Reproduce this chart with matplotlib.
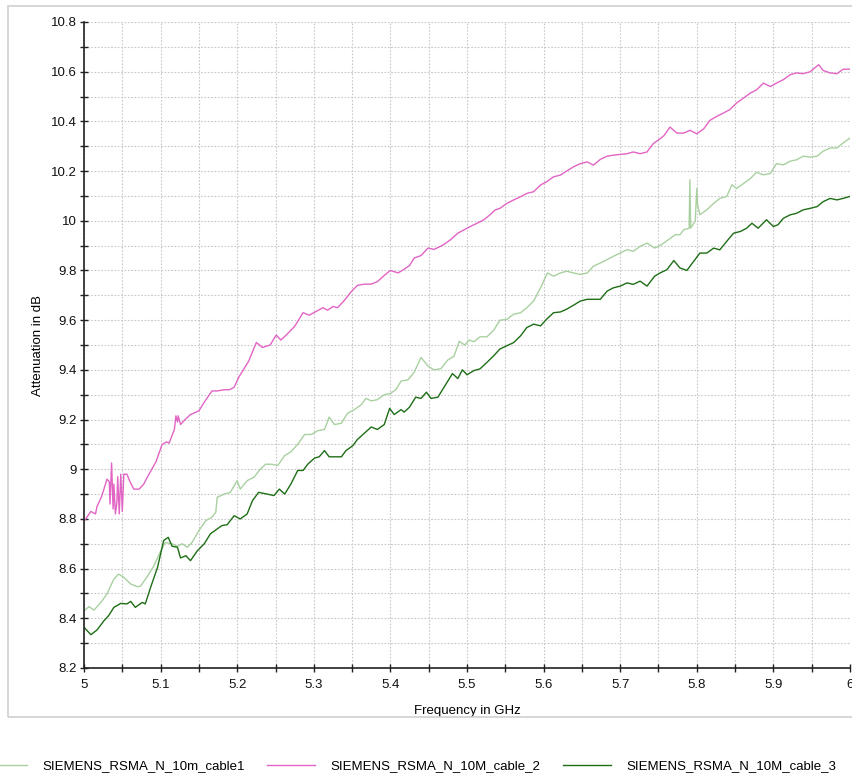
import matplotlib
matplotlib.use("Agg")
import matplotlib.pyplot as plt
from matplotlib.ticker import MultipleLocator, FuncFormatter
from matplotlib.patches import Rectangle

plt.rcParams['font.family'] = ['Liberation Sans', 'DejaVu Sans']

# ---------------- data ----------------
cable2_freq = [5.000, 5.009, 5.015, 5.017, 5.023, 5.030, 5.033, 5.034, 5.036, 5.038, 5.039, 5.041,
               5.043, 5.044, 5.046, 5.048, 5.050, 5.052, 5.056, 5.060, 5.065, 5.072, 5.078, 5.083,
               5.094, 5.102, 5.108, 5.111, 5.118, 5.120, 5.122, 5.123, 5.126, 5.132, 5.139, 5.150,
               5.157, 5.167, 5.174, 5.183, 5.190, 5.196, 5.202, 5.215, 5.225, 5.233, 5.243, 5.251,
               5.257, 5.264, 5.275, 5.286, 5.294, 5.303, 5.312, 5.318, 5.325, 5.331, 5.340, 5.349,
               5.357, 5.366, 5.375, 5.383, 5.392, 5.400, 5.410, 5.418, 5.425, 5.431, 5.440, 5.449,
               5.457, 5.464, 5.470, 5.479, 5.488, 5.497, 5.503, 5.509, 5.515, 5.522, 5.530, 5.537,
               5.543, 5.552, 5.561, 5.570, 5.578, 5.587, 5.596, 5.604, 5.613, 5.622, 5.630, 5.639,
               5.648, 5.657, 5.665, 5.674, 5.683, 5.691, 5.700, 5.709, 5.717, 5.726, 5.735, 5.743,
               5.752, 5.757, 5.765, 5.774, 5.783, 5.791, 5.800, 5.809, 5.817, 5.826, 5.835, 5.843,
               5.852, 5.861, 5.870, 5.878, 5.887, 5.896, 5.904, 5.913, 5.922, 5.930, 5.939, 5.948,
               5.959, 5.965, 5.974, 5.983, 5.991, 6.000]
cable2_db = [8.79, 8.83, 8.82, 8.85, 8.89, 8.96, 8.95, 8.86, 9.025, 8.84, 8.94, 8.82,
             8.87, 8.97, 8.82, 8.98, 8.83, 8.98, 8.98, 8.95, 8.92, 8.92, 8.94, 8.97,
             9.03, 9.10, 9.11, 9.105, 9.16, 9.215, 9.19, 9.215, 9.18, 9.20, 9.22, 9.235,
             9.27, 9.315, 9.315, 9.32, 9.32, 9.33, 9.37, 9.435, 9.51, 9.49, 9.50, 9.54,
             9.52, 9.54, 9.575, 9.63, 9.62, 9.635, 9.65, 9.64, 9.655, 9.65, 9.68, 9.715,
             9.74, 9.745, 9.745, 9.755, 9.78, 9.80, 9.79, 9.805, 9.82, 9.85, 9.86, 9.89,
             9.885, 9.895, 9.905, 9.925, 9.95, 9.965, 9.975, 9.984, 9.993, 10.004, 10.024, 10.044,
             10.05, 10.07, 10.084, 10.097, 10.11, 10.117, 10.144, 10.157, 10.177, 10.184, 10.20, 10.217,
             10.23, 10.237, 10.224, 10.247, 10.26, 10.264, 10.267, 10.27, 10.277, 10.27, 10.277, 10.31,
             10.33, 10.342, 10.377, 10.353, 10.353, 10.364, 10.35, 10.37, 10.404, 10.42, 10.434, 10.447,
             10.474, 10.494, 10.514, 10.527, 10.554, 10.54, 10.554, 10.568, 10.588, 10.595, 10.592, 10.60,
             10.628, 10.605, 10.595, 10.592, 10.61, 10.61]

cable1_freq = [5.000, 5.0065, 5.013, 5.022, 5.030, 5.039, 5.045, 5.052, 5.061, 5.070, 5.074, 5.083,
               5.091, 5.100, 5.106, 5.115, 5.122, 5.128, 5.135, 5.141, 5.150, 5.159, 5.167, 5.172,
               5.174, 5.183, 5.191, 5.200, 5.204, 5.213, 5.222, 5.230, 5.237, 5.245, 5.253, 5.262,
               5.270, 5.279, 5.288, 5.297, 5.305, 5.314, 5.320, 5.327, 5.336, 5.344, 5.353, 5.362,
               5.368, 5.375, 5.383, 5.392, 5.400, 5.407, 5.414, 5.423, 5.431, 5.440, 5.449, 5.457,
               5.466, 5.475, 5.483, 5.490, 5.497, 5.503, 5.509, 5.517, 5.526, 5.535, 5.543, 5.552,
               5.561, 5.570, 5.578, 5.587, 5.596, 5.605, 5.613, 5.622, 5.630, 5.639, 5.648, 5.657,
               5.665, 5.674, 5.683, 5.691, 5.700, 5.709, 5.717, 5.726, 5.735, 5.745, 5.754, 5.763,
               5.772, 5.778, 5.783, 5.790, 5.791, 5.792, 5.798, 5.800, 5.801, 5.804, 5.813, 5.822,
               5.830, 5.839, 5.846, 5.852, 5.861, 5.870, 5.878, 5.887, 5.896, 5.904, 5.913, 5.922,
               5.930, 5.939, 5.948, 5.957, 5.965, 5.974, 5.983, 5.991, 6.000]
cable1_db = [8.43, 8.447, 8.433, 8.464, 8.498, 8.558, 8.578, 8.565, 8.538, 8.527, 8.53, 8.57,
             8.61, 8.67, 8.705, 8.70, 8.69, 8.70, 8.686, 8.705, 8.753, 8.793, 8.807, 8.827,
             8.887, 8.90, 8.907, 8.954, 8.92, 8.954, 8.968, 9.00, 9.02, 9.02, 9.015, 9.055,
             9.07, 9.10, 9.14, 9.14, 9.155, 9.16, 9.21, 9.18, 9.185, 9.225, 9.24, 9.26,
             9.285, 9.275, 9.28, 9.30, 9.305, 9.32, 9.355, 9.36, 9.39, 9.45, 9.415, 9.40,
             9.405, 9.44, 9.455, 9.515, 9.50, 9.52, 9.513, 9.533, 9.533, 9.56, 9.60, 9.603,
             9.624, 9.63, 9.65, 9.677, 9.73, 9.79, 9.777, 9.79, 9.797, 9.79, 9.784, 9.79,
             9.817, 9.83, 9.844, 9.857, 9.87, 9.884, 9.877, 9.897, 9.91, 9.89, 9.904, 9.924,
             9.944, 9.944, 9.964, 9.97, 10.165, 9.97, 10.00, 10.13, 10.064, 10.024, 10.044, 10.07,
             10.09, 10.098, 10.145, 10.13, 10.15, 10.17, 10.195, 10.185, 10.19, 10.23, 10.225, 10.24,
             10.245, 10.26, 10.256, 10.26, 10.28, 10.293, 10.293, 10.313, 10.333]

cable3_freq = [5.000, 5.009, 5.017, 5.026, 5.032, 5.039, 5.048, 5.056, 5.061, 5.067, 5.076, 5.080,
               5.087, 5.096, 5.104, 5.110, 5.115, 5.122, 5.126, 5.133, 5.139, 5.148, 5.157, 5.165,
               5.174, 5.180, 5.187, 5.196, 5.204, 5.213, 5.220, 5.228, 5.239, 5.248, 5.255, 5.262,
               5.270, 5.279, 5.286, 5.292, 5.301, 5.307, 5.314, 5.320, 5.327, 5.336, 5.342, 5.351,
               5.357, 5.366, 5.375, 5.383, 5.392, 5.399, 5.405, 5.414, 5.418, 5.425, 5.433, 5.440,
               5.447, 5.453, 5.462, 5.470, 5.481, 5.488, 5.494, 5.500, 5.509, 5.517, 5.526, 5.535,
               5.543, 5.552, 5.561, 5.570, 5.578, 5.587, 5.596, 5.604, 5.613, 5.622, 5.630, 5.639,
               5.648, 5.657, 5.665, 5.674, 5.683, 5.691, 5.700, 5.709, 5.717, 5.726, 5.735, 5.745,
               5.752, 5.761, 5.770, 5.778, 5.787, 5.796, 5.804, 5.813, 5.822, 5.830, 5.839, 5.848,
               5.857, 5.865, 5.872, 5.880, 5.891, 5.900, 5.906, 5.913, 5.922, 5.930, 5.939, 5.948,
               5.957, 5.965, 5.974, 5.983, 5.991, 6.000]
cable3_db = [8.364, 8.334, 8.353, 8.39, 8.41, 8.444, 8.46, 8.458, 8.468, 8.444, 8.464, 8.458,
             8.525, 8.605, 8.713, 8.726, 8.69, 8.686, 8.643, 8.652, 8.632, 8.672, 8.70, 8.74,
             8.76, 8.773, 8.777, 8.813, 8.80, 8.82, 8.874, 8.907, 8.90, 8.894, 8.92, 8.90,
             8.94, 8.995, 8.995, 9.02, 9.045, 9.05, 9.075, 9.05, 9.05, 9.05, 9.075, 9.095,
             9.12, 9.145, 9.17, 9.16, 9.18, 9.245, 9.22, 9.24, 9.23, 9.25, 9.29, 9.285,
             9.31, 9.285, 9.29, 9.33, 9.385, 9.365, 9.40, 9.38, 9.397, 9.404, 9.43, 9.457,
             9.484, 9.497, 9.51, 9.537, 9.57, 9.584, 9.577, 9.604, 9.63, 9.633, 9.644, 9.66,
             9.677, 9.684, 9.684, 9.684, 9.717, 9.73, 9.737, 9.75, 9.744, 9.757, 9.737, 9.777,
             9.79, 9.803, 9.84, 9.81, 9.80, 9.837, 9.87, 9.87, 9.89, 9.883, 9.917, 9.95,
             9.957, 9.97, 9.99, 9.97, 10.004, 9.977, 9.984, 10.01, 10.024, 10.03, 10.044, 10.05,
             10.057, 10.077, 10.09, 10.084, 10.09, 10.098]

series_names = ["SIEMENS_RSMA_N_10m_cable1", "SIEMENS_RSMA_N_10M_cable_2", "SIEMENS_RSMA_N_10M_cable_3"]
series_colors = ["#a9d0a0", "#e264c4", "#1e6e16"]

x_label = "Frequency in GHz"
y_label = "Attenuation in dB"

# ---------------- figure ----------------
fig = plt.figure(figsize=(8.53, 7.77), dpi=100)
ax = fig.add_axes([84/853, 1-668/777, (850-84)/853, (668-22)/777])

# outer light frame
fig.patches.append(Rectangle((8/853, 1-717/777), 850/853, (717-6)/777, transform=fig.transFigure,
                             fill=False, edgecolor="#d0d0d0", linewidth=1.2))

l1, = ax.plot(cable1_freq, cable1_db, color=series_colors[0], lw=1.0, label=series_names[0])
l2, = ax.plot(cable2_freq, cable2_db, color=series_colors[1], lw=1.0, label=series_names[1])
l3, = ax.plot(cable3_freq, cable3_db, color=series_colors[2], lw=1.0, label=series_names[2])

ax.set_xlim(5.0, 6.0)
ax.set_ylim(8.2, 10.8)
ax.xaxis.set_major_locator(MultipleLocator(0.1))
ax.xaxis.set_minor_locator(MultipleLocator(0.05))
ax.yaxis.set_major_locator(MultipleLocator(0.2))
ax.yaxis.set_minor_locator(MultipleLocator(0.1))
fmt = FuncFormatter(lambda v, p: ("%.1f" % v).rstrip('0').rstrip('.'))
ax.xaxis.set_major_formatter(fmt)
ax.yaxis.set_major_formatter(fmt)

ax.grid(True, which='both', color='#c8c8c8', linestyle=(0, (1.5, 1.5)), linewidth=0.8)
ax.set_axisbelow(True)
for s in ['top', 'right']:
    ax.spines[s].set_visible(False)
for s in ['left', 'bottom']:
    ax.spines[s].set_color('#222222')
    ax.spines[s].set_linewidth(1.2)
ax.tick_params(which='both', direction='inout', length=6, width=1.0, color='#222222',
               labelsize=9.5, labelcolor='#111111')
ax.tick_params(axis='x', pad=5)
ax.tick_params(axis='y', pad=2)

ax.set_xlabel(x_label, fontsize=9.5, labelpad=10)
ax.set_ylabel(y_label, fontsize=9.5, labelpad=5)

fig.legend(handles=[l1, l2, l3], loc='center', bbox_to_anchor=(0.478, 1-766/777), ncol=3,
           frameon=False, fontsize=9.5, handlelength=3.6, handletextpad=1.2, columnspacing=1.7)

fig.savefig("out.png", dpi=100)
